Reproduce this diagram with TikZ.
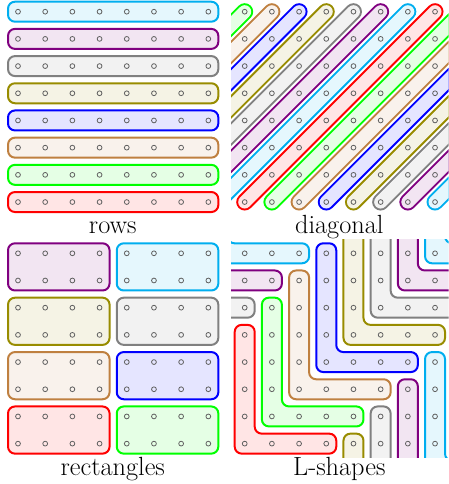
\documentclass[tikz,border=0pt]{standalone}
\definecolor{ccyan}{RGB}{0,174,239}
\definecolor{cviolet}{RGB}{128,0,128}
\definecolor{cgray}{RGB}{128,128,128}
\definecolor{colive}{RGB}{152,140,0}
\definecolor{cblue}{RGB}{0,0,255}
\definecolor{cbrown}{RGB}{191,128,64}
\definecolor{cgreen}{RGB}{0,255,0}
\definecolor{cred}{RGB}{255,0,0}
\begin{document}
\begin{tikzpicture}[x=1pt,y=-1pt,
  dot/.style={draw=black!62,line width=0.8pt},
  box/.style={draw=#1,fill=#1!10,line width=2pt,rounded corners=7pt},
  title/.style={anchor=base,font=\fontsize{26.3}{30}\selectfont}]
\useasboundingbox (0,0) rectangle (448,484);
% rows
\foreach \col [count=\r from 0] in {ccyan,cviolet,cgray,colive,cblue,cbrown,cgreen,cred} {
  \path[box=\col] (8,{11.7+\r*27.19-10}) rectangle ({18+7*27.19+10},{11.7+\r*27.19+10});
}
% diagonal
\begin{scope}
\clip ({244.7-13.6},{11.7-13.6}) rectangle ({244.7+7.5*27.19},{11.7+7.5*27.19});
\foreach \col [count=\s from 0] in {cgreen,cbrown,cblue,colive,cgray,cviolet,ccyan,cred}
 \foreach \sh in {-8,0,8} {
  \path[draw=\col,line width=17pt,line cap=round] ({244.7+(\s+\sh)*27.19},11.7) -- ({244.7+(\s+\sh-7)*27.19},{11.7+7*27.19});
  \path[draw=\col!10,line width=13pt,line cap=round] ({244.7+(\s+\sh)*27.19},11.7) -- ({244.7+(\s+\sh-7)*27.19},{11.7+7*27.19});
 }
\end{scope}
% rectangles
\foreach \col [count=\n from 0] in {cviolet,ccyan,colive,cgray,cbrown,cblue,cred,cgreen} {
  \pgfmathsetmacro\cx{mod(\n,2)*4}
  \pgfmathsetmacro\ry{floor(\n/2)*2}
  \path[box=\col] ({18+\cx*27.19-10},{253.3+\ry*27.19-10}) rectangle ({18+(\cx+3)*27.19+10},{253.3+(\ry+1)*27.19+10});
}
% L-shapes
\begin{scope}
\clip ({244.7-13.6},{253.3-13.6}) rectangle ({244.7+7.5*27.19},{253.3+7.5*27.19});
\foreach \col [count=\k from 0] in {cred,cgreen,cbrown,cblue,colive,cgray,cviolet,ccyan}
 \foreach \dx in {-8,0,8}
  \foreach \dy in {-8,0,8} {
   \pgfmathsetmacro\xa{244.7+(\k+\dx)*27.19}
   \pgfmathsetmacro\xb{244.7+(\k+3+\dx)*27.19}
   \pgfmathsetmacro\ya{253.3+(3-\k+\dy)*27.19}
   \pgfmathsetmacro\yb{253.3+(7-\k+\dy)*27.19}
   \path[box=\col] ({\xa-10},{\ya-10}) -- ({\xa+10},{\ya-10}) -- ({\xa+10},{\yb-10}) -- ({\xb+10},{\yb-10}) -- ({\xb+10},{\yb+10}) -- ({\xa-10},{\yb+10}) -- cycle;
  }
\end{scope}
% dots
\foreach \ox/\oy in {18/11.7,244.7/11.7,18/253.3,244.7/253.3}
 \foreach \i in {0,...,7}
  \foreach \j in {0,...,7}
   \draw[dot] ({\ox+\i*27.19},{\oy+\j*27.19}) circle[radius=2.4pt];
% titles
\node[title] (trows) at (112.8,233.5) {rows};
\node[title] (tdiag) at (339.3,233.5) {diagonal};
\node[title] (trect) at (112.8,475.7) {rectangles};
\node[title] (tlsh) at (339.3,475.7) {L-shapes};
\end{tikzpicture}
\end{document}
